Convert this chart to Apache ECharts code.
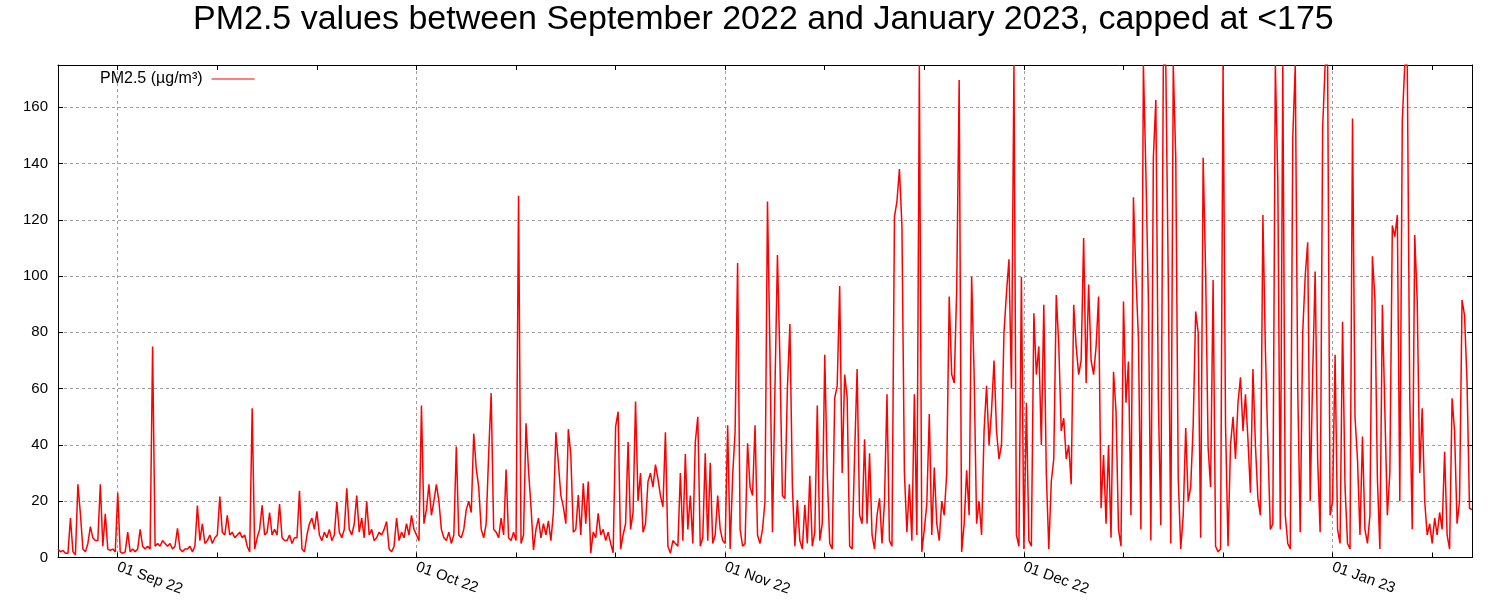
<!DOCTYPE html>
<html><head><meta charset="utf-8">
<script src="https://cdn.jsdelivr.net/npm/echarts@6/dist/echarts.min.js"></script>
<style>html,body{margin:0;padding:0;background:#fff}#c{width:1500px;height:600px}</style>
</head><body><div id="c"></div>
<script>
// ---- data (6-hourly readings, starting 2022-08-26 00:00 UTC) ----
const startDate = '2022-08-26';
const endDate = '2023-01-15';
const stepHours = 6;
const pm25 = [
 3,2,2.5,1.5, 1.5,14,2,1, 26,15.5,3,2, 5,11,7,6, 6,26,4,15.5, 3,2.5,3,2,
 23,2,1.5,2, 9,2,3,2, 3,10,4,3, 4,3,75,4, 5,4,6,5, 4,5,3,4,
 10.4,3,2,3, 3,4,2,4, 18.5,6,12,5, 6,8,5,7, 8,21.7,9,8, 15,8,9,7,
 8,9,7,8, 4,2,53,3, 7,10,18.5,8, 9,16,8,10, 8,19,7,6, 6,8,5,7,
 7,23.7,3,2, 8,12,14,10, 16.4,8,6,9, 7,10,6,8, 19.7,9,7,10, 24.6,10,8,12,
 22,9,14,7, 20,8,10,6, 7,9,8,10, 12.8,3,2,4, 14,6,9,7, 12,8,15,10,
 8,6,54,12, 17,26,15,20, 26,20,10,7, 6,9,5,8, 39.4,8,7,10, 17,20,16,44,
 31.7,25,10,7, 12,36.8,58.4,10, 9,7,14,8, 31.3,7,6,9, 6,128.5,5,8, 47.7,31,18,2.7,
 10,14,7,12, 8,13,6,16, 44.5,33.5,22,18, 12,45.6,36.4,9, 10,22.2,8,26.4, 12,27,1.5,9,
 7,15.7,8,10, 6,9,5,1.7, 46.5,51.8,3,8, 12,41,10,16, 55.4,20,30,9, 12,27,30,25,
 33,28,22,18, 44.5,4,1.5,6, 5,4,30,6, 36.8,10,22,5, 41,50,4,7, 37,6,33.7,5,
 8,22,10,6, 5,47,3,29, 45,104.6,10,4, 5,40.6,25,22, 47,8,5,10, 20,126.5,73,9,
 60,107.5,70,22, 21,60,83,25, 4,20.4,6,3, 18.7,5,29,4, 9,54,6,12, 72,30,5,3,
 56.6,61,96.5,30, 65,57,4,3, 36.4,67,15,12, 42,12,37,8, 3,15,21,5, 20,58,6,4,
 121,126.5,138,118, 30,9,26,6, 58,8,175,2, 10,19,51,8, 32,12,6,20, 15,30,92.7,65,
 62,95,169.7,2, 12,31,15,99.8, 65,12,20,8, 45,61,40,52, 70,45,35,40, 80,94,106,60,
 175,8,4,99.8, 3,55,6,4, 86.8,65,75,40, 89.8,30,3,27, 35,93.3,75.8,45, 49.5,35,40,26,
 89.8,75,65,70, 113.5,62,97,70, 65,75,92.7,17.5, 36.4,12,40,7, 66,52,10,4, 91,55,69.6,15,
 128,100,78,10, 175,137,92,6, 142,162.6,56.6,11.5, 175,175,98,5, 175,142,28,3, 15,46,20,25,
 47,87.4,80,7, 142,101.6,39,25, 98.6,4,2,3, 175,47,4,40, 50,35,55,64, 45,58,42,23,
 67,40,21,15, 121.7,74,40,10, 12,175,133.6,10, 175,15,5,3, 149,175,60,9, 80,100,112,20,
 65,101.6,35,9, 152.5,175,175,15, 20,72,10,5, 83.8,25,5,3, 156,50,35,8, 43,10,5,15,
 107,92,28,3, 89.8,52,15,30, 118,114,121.7,20, 155.5,175,175,56.6, 10,114.6,91,30, 53,20,8,12,
 5,14,8,16, 10,37.6,8,3, 56.6,44.7,12,20, 91.5,86,62.5,17.5,
 17
];
const monthTickDates = ['2022-09-01','2022-10-01','2022-11-01','2022-12-01','2023-01-01'];
const monthTickLabels = ['01 Sep 22','01 Oct 22','01 Nov 22','01 Dec 22','01 Jan 23'];
const allTickDates = ['2022-09-01','2022-09-11','2022-09-21','2022-10-01','2022-10-11','2022-10-21',
  '2022-11-01','2022-11-11','2022-11-21','2022-12-01','2022-12-11','2022-12-21','2023-01-01','2023-01-11'];
const seriesName = 'PM2.5 (µg/m³)';
const titleText = 'PM2.5 values between September 2022 and January 2023, capped at <175';

// ---- build ----
const ts = s => Date.parse(s + 'T00:00:00Z');
const t0 = ts(startDate), t1 = ts(endDate);
const data = pm25.map((v, i) => [t0 + i * stepHours * 3600e3, v]);
const monthTs = monthTickDates.map(ts);
const allTs = allTickDates.map(ts);
const FONT = '"Liberation Sans", Arial, sans-serif';
const gridLine = {show: true, lineStyle: {color: '#a0a0a0', width: 1, type: [3, 3]}};

const chart = echarts.init(document.getElementById('c'), null, {renderer: 'canvas'});
chart.setOption({
  animation: false,
  backgroundColor: '#fff',
  textStyle: {fontFamily: FONT},
  title: {text: titleText, left: 188, top: -2,
    textStyle: {fontSize: 34, fontWeight: 'normal', color: '#000', fontFamily: FONT}},
  legend: {left: 95, top: 66, align: 'right', icon: 'rect', itemWidth: 43, itemHeight: 1, itemGap: 5,
    itemStyle: {color: '#ff0000'},
    textStyle: {fontSize: 16, color: '#000', fontFamily: FONT, padding: [0, 4, 0, 0]}, data: [seriesName]},
  grid: {left: 58, right: 28, top: 65, bottom: 42.5, containLabel: false, outerBoundsMode: 'none'},
  xAxis: [
    {type: 'value', position: 'bottom', min: t0, max: t1, scale: true,
     axisLine: {show: true, onZero: false, lineStyle: {color: '#000', width: 1}},
     axisTick: {show: true, inside: true, length: 5, customValues: allTs, lineStyle: {color: '#000'}},
     axisLabel: {show: true, customValues: monthTs, rotate: -20, margin: 9, fontSize: 15, color: '#000', fontFamily: FONT,
       formatter: v => { const k = monthTs.indexOf(v); return k >= 0 ? monthTickLabels[k] : ''; }},
     splitLine: {show: false}},
    {type: 'value', position: 'top', min: t0, max: t1, scale: true,
     axisLine: {show: true, onZero: false, lineStyle: {color: '#000', width: 1}},
     axisTick: {show: true, inside: true, length: 5, customValues: allTs, lineStyle: {color: '#000'}},
     axisLabel: {show: false}, splitLine: {show: false}},
    {type: 'value', position: 'bottom', min: t0, max: t1, scale: true,
     axisLine: {show: false}, axisTick: {show: false, customValues: monthTs},
     axisLabel: {show: false, customValues: monthTs}, splitLine: gridLine}
  ],
  yAxis: [
    {type: 'value', position: 'left', min: 0, max: 175, interval: 20,
     axisLine: {show: true, onZero: false, lineStyle: {color: '#000', width: 1}},
     axisTick: {show: true, inside: true, length: 5, lineStyle: {color: '#000'}},
     axisLabel: {show: true, showMaxLabel: false, margin: 10, fontSize: 15, color: '#000', fontFamily: FONT},
     splitLine: gridLine},
    {type: 'value', position: 'right', min: 0, max: 175, interval: 20,
     axisLine: {show: true, onZero: false, lineStyle: {color: '#000', width: 1}},
     axisTick: {show: true, inside: true, length: 5, lineStyle: {color: '#000'}},
     axisLabel: {show: false}, splitLine: {show: false}}
  ],
  series: [{
    name: seriesName, type: 'line', xAxisIndex: 0, yAxisIndex: 0, data: data,
    symbol: 'none', showSymbol: false, clip: true, z: 5,
    lineStyle: {color: '#ff0000', width: 1.5}, itemStyle: {color: '#ff0000'}
  }]
});
</script>
</body></html>
